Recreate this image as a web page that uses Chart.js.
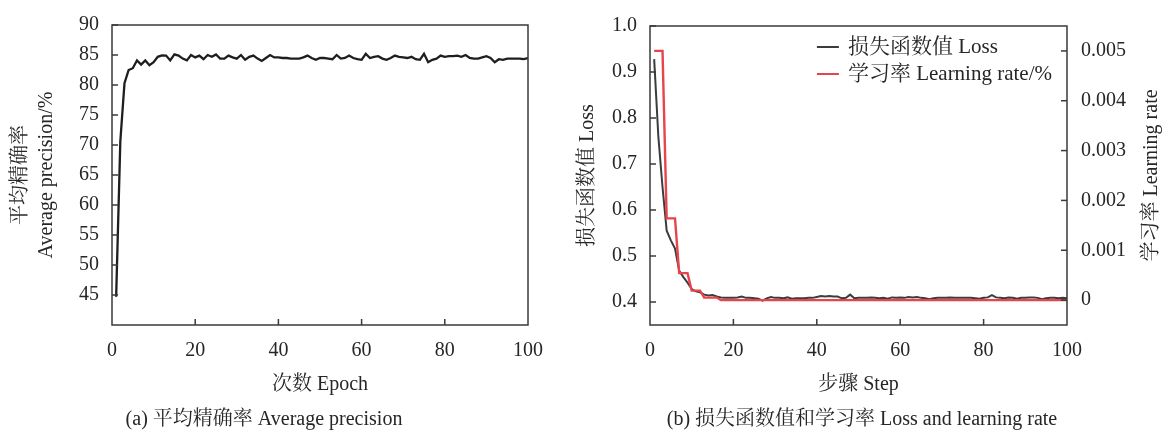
<!DOCTYPE html>
<html>
<head>
<meta charset="utf-8">
<script src="https://cdn.jsdelivr.net/npm/chart.js@4.4.1/dist/chart.umd.min.js"></script>
<style>
  html, body { margin: 0; padding: 0; background: #fff; }
  #wrap { position: relative; width: 1164px; height: 434px; overflow: hidden; }
  #boxA { position: absolute; left: 0; top: 0; width: 584px; height: 434px; }
  #boxB { position: absolute; left: 560px; top: 0; width: 604px; height: 434px; }
</style>
</head>
<body>
<div id="wrap">
  <div id="boxB"><canvas id="lossChart"></canvas></div>
  <div id="boxA"><canvas id="apChart"></canvas></div>
</div>
<script>
const FONT = "'Liberation Serif', 'Noto Serif CJK SC', 'Noto Sans CJK SC', serif";
const INK = "#262626";

// (a) average precision per epoch
const epochTicks = [0, 20, 40, 60, 80, 100];
const apTicks = [45, 50, 55, 60, 65, 70, 75, 80, 85, 90];
const apValues = [
  44.7, 70.6, 80.3, 82.5, 82.8, 84.1, 83.4, 84.1, 83.3, 83.8,
  84.7, 84.95, 84.9, 84.1, 85.1, 84.9, 84.4, 84.1, 85.0, 84.6,
  84.9, 84.3, 85.0, 84.7, 85.1, 84.4, 84.4, 84.9, 84.6, 84.4,
  85.0, 84.2, 84.7, 84.9, 84.4, 84.0, 84.5, 85.0, 84.6, 84.6,
  84.5, 84.5, 84.4, 84.4, 84.4, 84.6, 84.9, 84.5, 84.2, 84.5,
  84.5, 84.4, 84.3, 85.0, 84.4, 84.5, 84.9, 84.5, 84.3, 84.2,
  85.2, 84.5, 84.7, 84.8, 84.4, 84.2, 84.5, 84.9, 84.7, 84.6,
  84.5, 84.7, 84.3, 84.2, 85.2, 83.8, 84.2, 84.4, 84.9, 84.7,
  84.8, 84.8, 84.9, 84.7, 85.0, 84.5, 84.4, 84.4, 84.6, 84.8,
  84.5, 83.8, 84.3, 84.2, 84.4, 84.4, 84.4, 84.4, 84.3, 84.5
];

// (b) loss and learning rate per step
const stepTicks = [0, 20, 40, 60, 80, 100];
const lossTicks = [0.4, 0.5, 0.6, 0.7, 0.8, 0.9, 1.0];
const lrTicks = [0, 0.001, 0.002, 0.003, 0.004, 0.005];
const lossValues = [
  0.928, 0.760, 0.650, 0.555, 0.534, 0.516, 0.468, 0.454, 0.442, 0.428,
  0.423, 0.421, 0.416, 0.414, 0.415, 0.412, 0.410, 0.409, 0.409, 0.409,
  0.410, 0.412, 0.409, 0.409, 0.408, 0.407, 0.403, 0.408, 0.411, 0.409,
  0.409, 0.408, 0.410, 0.407, 0.408, 0.408, 0.408, 0.409, 0.409, 0.411,
  0.413, 0.412, 0.413, 0.412, 0.412, 0.408, 0.409, 0.416, 0.408, 0.409,
  0.409, 0.409, 0.410, 0.409, 0.408, 0.409, 0.407, 0.410, 0.409, 0.410,
  0.409, 0.411, 0.410, 0.411, 0.409, 0.408, 0.406, 0.408, 0.409, 0.409,
  0.409, 0.410, 0.409, 0.409, 0.409, 0.409, 0.409, 0.408, 0.407, 0.409,
  0.410, 0.415, 0.410, 0.409, 0.408, 0.410, 0.409, 0.407, 0.409, 0.409,
  0.410, 0.410, 0.409, 0.406, 0.408, 0.409, 0.409, 0.408, 0.409, 0.408
];
const lrValues = [
  0.005, 0.005, 0.005, 0.00164, 0.00164, 0.00164, 0.00054, 0.00054, 0.00054, 0.00019,
  0.00019, 0.00019, 0.00005, 0.00005, 0.00005, 0.00005, 0, 0, 0, 0,
  0, 0, 0, 0, 0, 0, 0, 0, 0, 0,
  0, 0, 0, 0, 0, 0, 0, 0, 0, 0,
  0, 0, 0, 0, 0, 0, 0, 0, 0, 0,
  0, 0, 0, 0, 0, 0, 0, 0, 0, 0,
  0, 0, 0, 0, 0, 0, 0, 0, 0, 0,
  0, 0, 0, 0, 0, 0, 0, 0, 0, 0,
  0, 0, 0, 0, 0, 0, 0, 0, 0, 0,
  0, 0, 0, 0, 0, 0, 0, 0, 0, 0
];

const toPoints = (vals) => vals.map((v, i) => ({ x: i + 1, y: v }));
const pinTicks = (list) => (scale) => { scale.ticks = list.map((v) => ({ value: v })); };
const txt = (size, extra) => Object.assign({ family: FONT, size: size, weight: "normal" }, extra || {});

// box round the plot plus short inward tick marks
const frameTicks = {
  id: "frameTicks",
  afterDatasetsDraw(chart) {
    const { ctx, chartArea: a } = chart;
    ctx.save();
    ctx.strokeStyle = "#3a3a3a";
    ctx.lineWidth = 1.5;
    ctx.strokeRect(a.left, a.top, a.right - a.left, a.bottom - a.top);
    Object.values(chart.scales).forEach((s) => {
      s.ticks.forEach((t) => {
        const p = s.getPixelForValue(t.value);
        ctx.beginPath();
        if (s.axis === "x") {
          if (p <= a.left + 1 || p >= a.right - 1) return;
          ctx.moveTo(p, a.bottom);
          ctx.lineTo(p, a.bottom - 6);
        } else if (s.position === "left") {
          ctx.moveTo(a.left, p);
          ctx.lineTo(a.left + 6, p);
        } else {
          ctx.moveTo(a.right, p);
          ctx.lineTo(a.right - 6, p);
        }
        ctx.stroke();
      });
    });
    ctx.restore();
  }
};

// legend in the upper right corner of the plot
const cornerLegend = {
  id: "cornerLegend",
  afterDraw(chart) {
    const { ctx, chartArea: a } = chart;
    const sets = chart.data.datasets;
    ctx.save();
    ctx.font = "21px " + FONT;
    const w = Math.max(...sets.map((d) => ctx.measureText(d.label).width));
    const x0 = a.right - 15 - w - 31;
    sets.forEach((d, i) => {
      const y = a.top + 21 + i * 27;
      ctx.strokeStyle = d.borderColor;
      ctx.lineWidth = 2;
      ctx.beginPath();
      ctx.moveTo(x0, y);
      ctx.lineTo(x0 + 22, y);
      ctx.stroke();
      ctx.fillStyle = INK;
      ctx.textBaseline = "middle";
      ctx.textAlign = "left";
      ctx.fillText(d.label, x0 + 31, y);
    });
    ctx.restore();
  }
};

// right axis title reads bottom to top
const rightTitle = {
  id: "rightTitle",
  afterDraw(chart) {
    const { ctx, chartArea: a } = chart;
    const s = chart.scales.y1;
    ctx.save();
    ctx.translate(s.right - 12, (a.top + a.bottom) / 2);
    ctx.rotate(-Math.PI / 2);
    ctx.font = "20px " + FONT;
    ctx.fillStyle = INK;
    ctx.textAlign = "center";
    ctx.textBaseline = "middle";
    ctx.fillText("学习率 Learning rate", 0, 0);
    ctx.restore();
  }
};

new Chart(document.getElementById("apChart"), {
  type: "line",
  data: {
    datasets: [{
      label: "Average precision",
      data: toPoints(apValues),
      borderColor: "#1e1e1e",
      borderWidth: 2.3,
      pointRadius: 0,
      tension: 0,
    }],
  },
  options: {
    responsive: true,
    maintainAspectRatio: false,
    animation: false,
    layout: { padding: { top: 23, right: 56, left: 0, bottom: 0 } },
    plugins: {
      legend: { display: false },
      tooltip: { enabled: false },
      title: {
        display: true,
        position: "bottom",
        text: "(a) 平均精确率 Average precision",
        color: INK,
        font: txt(20),
        padding: { top: 0, bottom: 2 },
      },
    },
    scales: {
      x: {
        type: "linear",
        min: 0,
        max: 100,
        afterBuildTicks: pinTicks(epochTicks),
        afterFit: (s) => { s.height = 83; },
        grid: { display: false, drawTicks: false },
        border: { display: false },
        ticks: { color: INK, font: txt(20), padding: 14, maxRotation: 0, autoSkip: false },
        title: { display: true, text: "次数 Epoch", color: INK, font: txt(20), padding: { top: 0, bottom: 11 } },
      },
      y: {
        min: 40,
        max: 90,
        afterBuildTicks: pinTicks(apTicks),
        afterFit: (s) => { s.width = 112; },
        grid: { display: false, drawTicks: false },
        border: { display: false },
        ticks: { color: INK, font: txt(20), padding: 13, autoSkip: false },
        title: {
          display: true,
          text: ["平均精确率", "Average precision/%"],
          color: INK,
          font: txt(20, { lineHeight: 1.3 }),
          padding: { top: 8, bottom: 0 },
        },
      },
    },
  },
  plugins: [frameTicks],
});

new Chart(document.getElementById("lossChart"), {
  type: "line",
  data: {
    datasets: [
      {
        label: "损失函数值 Loss",
        data: toPoints(lossValues),
        yAxisID: "y",
        borderColor: "#3c3c3c",
        borderWidth: 2,
        pointRadius: 0,
        tension: 0,
        order: 1,
      },
      {
        label: "学习率 Learning rate/%",
        data: toPoints(lrValues),
        yAxisID: "y1",
        borderColor: "#e5454b",
        borderWidth: 2.4,
        pointRadius: 0,
        tension: 0,
        order: 0,
      },
    ],
  },
  options: {
    responsive: true,
    maintainAspectRatio: false,
    animation: false,
    layout: { padding: { top: 23, right: 0, left: 0, bottom: 0 } },
    plugins: {
      legend: { display: false },
      tooltip: { enabled: false },
      title: {
        display: true,
        position: "bottom",
        text: "(b) 损失函数值和学习率 Loss and learning rate",
        color: INK,
        font: txt(20),
        padding: { top: 0, bottom: 2 },
      },
    },
    scales: {
      x: {
        type: "linear",
        min: 0,
        max: 100,
        afterBuildTicks: pinTicks(stepTicks),
        afterFit: (s) => { s.height = 83; },
        grid: { display: false, drawTicks: false },
        border: { display: false },
        ticks: { color: INK, font: txt(20), padding: 14, maxRotation: 0, autoSkip: false },
        title: { display: true, text: "步骤 Step", color: INK, font: txt(20), padding: { top: 0, bottom: 11 } },
      },
      y: {
        position: "left",
        min: 0.35,
        max: 1.0,
        afterBuildTicks: pinTicks(lossTicks),
        afterFit: (s) => { s.width = 90; },
        grid: { display: false, drawTicks: false },
        border: { display: false },
        ticks: { color: INK, font: txt(20), padding: 13, autoSkip: false, callback: (v) => Number(v).toFixed(1) },
        title: { display: true, text: "损失函数值 Loss", color: INK, font: txt(20), padding: { top: 16, bottom: 0 } },
      },
      y1: {
        position: "right",
        min: -0.0005,
        max: 0.0055,
        afterBuildTicks: pinTicks(lrTicks),
        afterFit: (s) => { s.width = 97; },
        grid: { display: false, drawTicks: false },
        border: { display: false },
        ticks: { color: INK, font: txt(20), padding: 14, autoSkip: false, callback: (v) => (v === 0 ? "0" : Number(v).toFixed(3)) },
      },
    },
  },
  plugins: [frameTicks, cornerLegend, rightTitle],
});
</script>
</body>
</html>
